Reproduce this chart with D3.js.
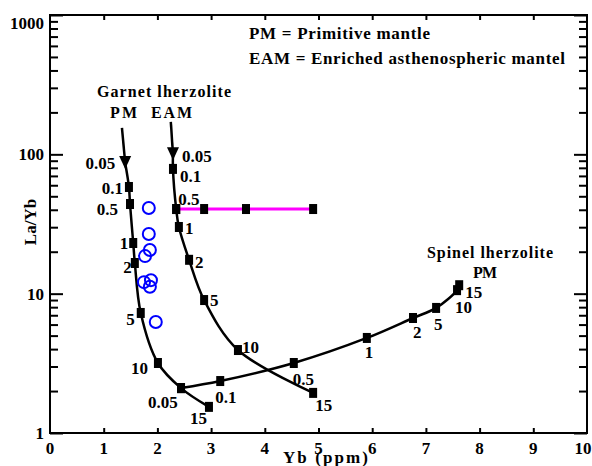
<!DOCTYPE html>
<html>
<head>
<meta charset="utf-8">
<script src="https://cdn.jsdelivr.net/npm/d3@7"></script>
<style>
  body { margin: 0; background: #fff; }
  text { font-family: "Liberation Serif", "Times New Roman", serif; font-weight: bold; fill: #000; }
</style>
</head>
<body>
<div id="chart"></div>
<script>
// ---- data ----
// Garnet lherzolite, primitive mantle (melt fraction F %)
var gpmYb   = [1.40, 1.47, 1.49, 1.55, 1.58, 1.69, 2.01, 2.44, 2.96];
var gpmLaYb = [86.7, 58.3, 44.0, 23.1, 16.6, 7.27, 3.18, 2.10, 1.54];
var gpmF    = ["0.05", "0.1", "0.5", "1", "2", "5", "10", "", "15"];
var gpmLead = [1.34, 155];

// Garnet lherzolite, enriched asthenospheric mantle
var geamYb   = [2.29, 2.29, 2.35, 2.40, 2.59, 2.87, 3.50, 4.90];
var geamLaYb = [100, 78.6, 40.5, 30.1, 17.5, 9.0, 3.94, 1.94];
var geamF    = ["0.05", "0.1", "0.5", "1", "2", "5", "10", "15"];
var geamLead = [2.25, 171];

// Spinel lherzolite, primitive mantle
var spmYb   = [2.44, 3.17, 4.54, 5.90, 6.76, 7.19, 7.58, 7.62];
var spmLaYb = [2.10, 2.36, 3.18, 4.81, 6.69, 7.90, 10.6, 11.5];
var spmF    = ["0.05", "0.1", "0.5", "1", "2", "5", "10", "15"];

// magenta mixing line
var mixYb   = [2.35, 2.87, 3.65, 4.90];
var mixLaYb = [40.5, 40.5, 40.5, 40.5];

// samples
var sampleYb   = [1.84, 1.84, 1.86, 1.77, 1.75, 1.88, 1.86, 1.97];
var sampleLaYb = [41.2, 26.8, 20.6, 18.6, 12.1, 12.5, 11.2, 6.26];

var xTicks = [0, 1, 2, 3, 4, 5, 6, 7, 8, 9, 10];
var yTicks = [1, 10, 100, 1000];

// label offsets (px) for each marker label
var gpmOff  = [[-10, 0], [-6, 1], [-12, 5], [-5, 0], [-3, 4], [-6, 6], [-10, 5], [0, 0], [-2, 11]];
var geamOff = [[9, 2], [7, 7], [2, -10], [6, 1], [6, 2], [6, 0], [4, -3], [2, 12]];
var spmOff  = [[-33, 14], [-5, 16], [-1, 16], [-2, 14], [0, 14], [-2, 16], [-2, 17], [6, 7]];

// ---- chart ----
var svgWidth = 592, svgHeight = 466;
var svg = d3.select("#chart").append("svg")
  .attr("width", svgWidth)
  .attr("height", svgHeight);

var x = d3.scaleLinear().domain([0, 10]).range([50, 587]);
var y = d3.scaleLog().domain([1, 1000]).range([433, 15]);

function zip(a, b) { return a.map(function(v, i) { return [v, b[i]]; }); }

// frame
svg.append("rect")
  .attr("x", x(0)).attr("y", y(1000))
  .attr("width", x(10) - x(0)).attr("height", y(1) - y(1000))
  .attr("fill", "none").attr("stroke", "#000").attr("stroke-width", 2);

// axes: ticks inside the frame
var minor = [];
[1, 10, 100].forEach(function(d) { for (var k = 2; k <= 9; k++) minor.push(d * k); });

function tickStyle(g) {
  g.select(".domain").remove();
  g.selectAll("line").attr("stroke-width", 2);
}

svg.append("g").attr("transform", "translate(" + x(0) + ",0)")
  .call(d3.axisRight(y).tickValues(yTicks).tickSize(13).tickFormat("")).call(tickStyle);
svg.append("g").attr("transform", "translate(" + x(0) + ",0)")
  .call(d3.axisRight(y).tickValues(minor).tickSize(8).tickFormat("")).call(tickStyle);
svg.append("g").attr("transform", "translate(" + x(10) + ",0)")
  .call(d3.axisLeft(y).tickValues(yTicks).tickSize(13).tickFormat("")).call(tickStyle);
svg.append("g").attr("transform", "translate(" + x(10) + ",0)")
  .call(d3.axisLeft(y).tickValues(minor).tickSize(8).tickFormat("")).call(tickStyle);
svg.append("g").attr("transform", "translate(0," + y(1) + ")")
  .call(d3.axisTop(x).tickValues(xTicks.slice(1, -1)).tickSize(5).tickFormat("")).call(tickStyle);
svg.append("g").attr("transform", "translate(0," + y(1000) + ")")
  .call(d3.axisBottom(x).tickValues(xTicks.slice(1, -1)).tickSize(5).tickFormat("")).call(tickStyle);

// tick labels
svg.selectAll(".xl").data(xTicks).enter().append("text")
  .attr("x", function(d) { return d === 10 ? x(d) - 4 : x(d); })
  .attr("y", 454)
  .attr("text-anchor", "middle")
  .style("font-size", "17px")
  .text(function(d) { return d; });

svg.selectAll(".yl").data(yTicks).enter().append("text")
  .attr("x", 44)
  .attr("y", function(d) { return d === 1000 ? y(d) + 8 : y(d); })
  .attr("dy", "0.35em")
  .attr("text-anchor", "end")
  .style("font-size", "17px")
  .text(function(d) { return d; });

svg.append("text")
  .attr("transform", "translate(36,222) rotate(-90)")
  .attr("text-anchor", "middle")
  .style("font-size", "17px")
  .text("La/Yb");

svg.append("text")
  .attr("x", 283).attr("y", 463)
  .attr("textLength", 85)
  .attr("lengthAdjust", "spacing")
  .style("font-size", "17px")
  .style("white-space", "pre")
  .text("Yb (ppm)");

// curves
var line = d3.line()
  .x(function(d) { return x(d[0]); })
  .y(function(d) { return y(d[1]); })
  .curve(d3.curveCatmullRom.alpha(0.5));
var straight = d3.line()
  .x(function(d) { return x(d[0]); })
  .y(function(d) { return y(d[1]); });

function drawCurve(xs, ys, lead) {
  var pts = zip(xs, ys);
  if (lead) {
    svg.append("path").datum([lead, pts[0]])
      .attr("d", straight)
      .attr("fill", "none").attr("stroke", "#000").attr("stroke-width", 2.5);
  }
  svg.append("path").datum(pts)
    .attr("d", line)
    .attr("fill", "none").attr("stroke", "#000").attr("stroke-width", 2.5);
}

drawCurve(gpmYb, gpmLaYb, gpmLead);
drawCurve(geamYb, geamLaYb, geamLead);
drawCurve(spmYb, spmLaYb, null);

svg.append("path").datum(zip(mixYb, mixLaYb))
  .attr("d", straight)
  .attr("fill", "none").attr("stroke", "#ff00ff").attr("stroke-width", 3);

// markers
function drawMarkers(xs, ys, firstTriangle) {
  zip(xs, ys).forEach(function(d, i) {
    var px = x(d[0]), py = y(d[1]);
    if (i === 0 && firstTriangle) {
      svg.append("path")
        .attr("d", "M" + (px - 6) + "," + (py - 7) + "L" + (px + 6) + "," + (py - 7) + "L" + px + "," + (py + 6) + "Z")
        .attr("fill", "#000");
    } else {
      svg.append("rect")
        .attr("x", px - 4).attr("y", py - 5)
        .attr("width", 8).attr("height", 10)
        .attr("fill", "#000");
    }
  });
}

drawMarkers(gpmYb, gpmLaYb, true);
drawMarkers(geamYb, geamLaYb, true);
drawMarkers(spmYb, spmLaYb, false);
drawMarkers(mixYb, mixLaYb, false);

// marker labels
function drawLabels(xs, ys, labels, offs, anchor) {
  labels.forEach(function(t, i) {
    if (!t) return;
    svg.append("text")
      .attr("x", x(xs[i]) + offs[i][0])
      .attr("y", y(ys[i]) + offs[i][1])
      .attr("dy", "0.35em")
      .attr("text-anchor", anchor)
      .style("font-size", "17px")
      .text(t);
  });
}

drawLabels(gpmYb, gpmLaYb, gpmF, gpmOff, "end");
drawLabels(geamYb, geamLaYb, geamF, geamOff, "start");
drawLabels(spmYb, spmLaYb, spmF, spmOff, "start");

// samples
svg.selectAll(".sample").data(zip(sampleYb, sampleLaYb)).enter().append("circle")
  .attr("cx", function(d) { return x(d[0]); })
  .attr("cy", function(d) { return y(d[1]); })
  .attr("r", 6)
  .attr("fill", "none")
  .attr("stroke", "#0000ff")
  .attr("stroke-width", 2);

// annotations: text, left x, centre y, width, font size
var notes = [
  ["PM = Primitive mantle", 249, 33, 181, 17],
  ["EAM = Enriched asthenospheric mantel", 249, 58, 316, 17],
  ["Garnet lherzolite", 97, 91, 134, 16],
  ["PM", 110, 112, 27, 16],
  ["EAM", 151, 112, 41, 16],
  ["Spinel lherzolite", 427, 252, 126, 16],
  ["PM", 473, 272, 24, 16]
];
notes.forEach(function(n) {
  svg.append("text")
    .attr("x", n[1]).attr("y", n[2])
    .attr("dy", "0.35em")
    .attr("textLength", n[3])
    .attr("lengthAdjust", "spacing")
    .style("font-size", n[4] + "px")
    .text(n[0]);
});
</script>
</body>
</html>
